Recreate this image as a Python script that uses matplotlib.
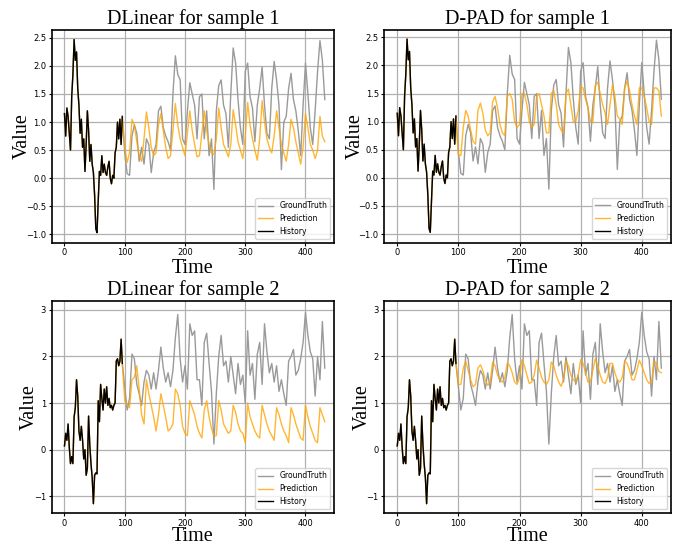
import numpy as np
import matplotlib
matplotlib.use('Agg')
import matplotlib.pyplot as plt

# history window, t = 0..96 step 2
hist1 = [1.15, 0.75, 1.25, 1.1, 0.8, 0.5, 1.45, 1.85, 2.47, 2.1,
         2.25, 1.6, 1.3, 0.8, 1.05, 0.55, 0.7, 0.12, 0.6, 1.2,
         0.85, 0.3, 0.6, 0.25, 0.1, -0.3, -0.9, -0.97, -0.4, 0.12,
         0.05, 0.4, 0.1, 0.25, 0.1, 0.05, 0.2, 0.3, 0.0, -0.1,
         0.05, 0.0, 0.45, 0.55, 1.0, 0.7, 1.05, 0.6, 1.1]
hist2 = [0.08, 0.35, 0.2, 0.55, 0.05, -0.3, -0.15, -0.3, 0.7, 0.9,
         1.5, 1.15, 0.4, 0.2, 0.5, 0.2, -0.2, 0.0, -0.55, -0.4,
         0.72, 0.1, -0.3, -0.6, -1.16, -0.55, -0.5, -0.52, 1.05, 0.6,
         1.4, 1.1, 0.85, 1.3, 1.0, 1.35, 0.95, 1.1, 0.9, 0.95,
         0.85, 0.95, 1.0, 1.9, 1.95, 1.8, 1.9, 2.37, 1.85]

# forecast window, t = 100..432 step 4
gt1 = [0.45, 0.08, 0.05, 0.75, 0.95, 0.8, 0.3, 0.55, 0.25, 0.7, 0.6, 0.1,
       0.45, 0.6, 1.2, 1.28, 0.9, 0.75, 0.65, 0.5, 1.5, 2.18, 1.85, 1.75,
       0.7, 0.6, 1.2, 1.7, 1.5, 1.3, 0.7, 1.45, 1.5, 0.7, 1.2, 0.4,
       0.7, -0.2, 1.2, 1.65, 1.75, 1.3, 1.15, 0.55, 1.5, 2.32, 2.05, 1.4,
       0.9, 0.6, 1.9, 2.05, 1.45, 1.25, 0.65, 1.3, 1.6, 1.98, 1.3, 0.8,
       0.7, 1.6, 2.08, 1.75, 1.3, 0.15, 1.0, 1.1, 1.6, 1.87, 1.4, 1.2,
       0.85, 0.4, 1.3, 2.05, 1.5, 0.9, 0.6, 1.2, 1.9, 2.45, 2.1, 1.4]
dlinear1 = [0.55, 0.28, 0.45, 1.05, 0.95, 0.65, 0.4, 0.3, 0.7, 1.18, 0.9, 0.55,
            0.4, 0.45, 0.95, 1.15, 0.85, 0.55, 0.35, 0.4, 0.85, 1.33, 0.95, 0.7,
            0.55, 0.4, 0.8, 1.2, 0.85, 0.6, 0.38, 0.4, 0.8, 1.2, 0.85, 0.6,
            0.45, 0.42, 0.7, 1.25, 0.9, 0.6, 0.5, 0.38, 0.6, 1.22, 0.95, 0.65,
            0.5, 0.35, 0.75, 1.35, 0.95, 0.7, 0.5, 0.32, 0.7, 1.38, 1.0, 0.7,
            0.55, 0.45, 0.75, 1.2, 0.9, 0.6, 0.45, 0.3, 0.6, 1.05, 0.9, 0.65,
            0.45, 0.25, 0.55, 1.15, 0.9, 0.6, 0.5, 0.35, 0.5, 1.1, 0.75, 0.65]
dpad1 = [0.4, 0.4, 0.9, 1.2, 1.1, 0.85, 0.65, 0.6, 1.2, 1.33, 1.15, 0.85,
         0.75, 0.8, 1.35, 1.45, 1.25, 0.95, 0.8, 0.75, 1.45, 1.5, 1.4, 1.0,
         0.9, 0.95, 1.5, 1.5, 1.3, 1.0, 0.9, 0.95, 1.45, 1.5, 1.3, 1.1,
         0.8, 0.8, 1.5, 1.56, 1.3, 0.95, 0.85, 0.8, 1.5, 1.58, 1.3, 1.0,
         1.0, 1.2, 1.62, 1.6, 1.4, 1.25, 1.0, 0.98, 1.65, 1.7, 1.5, 1.3,
         1.15, 0.95, 1.3, 1.65, 1.45, 1.1, 1.05, 0.95, 1.6, 1.72, 1.55, 1.3,
         1.1, 0.95, 1.6, 1.6, 1.45, 1.25, 1.0, 0.95, 1.6, 1.6, 1.55, 1.1]
gt2 = [1.35, 0.85, 1.1, 2.05, 1.95, 1.4, 1.2, 0.95, 1.45, 1.7, 1.6, 1.3,
       1.65, 1.3, 1.7, 2.2, 1.75, 1.45, 1.65, 1.35, 1.7, 2.4, 2.9, 1.95,
       1.45, 1.8, 1.3, 2.7, 2.45, 2.55, 1.5, 1.5, 0.95, 2.3, 2.5, 1.85,
       1.25, 0.12, 1.2, 2.0, 2.45, 1.8, 1.9, 1.45, 2.0, 1.6, 1.2, 1.85,
       1.4, 1.6, 1.0, 2.55, 1.6, 1.85, 1.08, 2.05, 2.3, 1.4, 2.7, 2.1,
       1.65, 1.85, 1.45, 1.8, 1.25, 1.5, 1.2, 0.95, 1.9, 2.0, 2.15, 1.6,
       1.7, 1.95, 2.3, 2.95, 2.45, 2.1, 1.95, 1.15, 2.0, 1.5, 2.75, 1.75]
dlinear2 = [1.05, 0.95, 0.9, 1.5, 1.55, 1.8, 1.3, 0.75, 0.55, 1.5, 1.2, 0.95,
            0.7, 0.4, 0.75, 1.2, 0.95, 0.7, 0.4, 0.45, 0.55, 1.3, 1.2, 0.95,
            0.5, 0.35, 0.3, 1.05, 0.9, 0.75, 0.5, 0.35, 0.25, 0.85, 1.05, 0.7,
            0.45, 0.3, 0.3, 1.05, 0.85, 0.55, 0.45, 0.35, 0.4, 0.95, 0.8, 0.55,
            0.4, 0.35, 0.15, 1.0, 0.7, 0.55, 0.4, 0.3, 0.25, 0.95, 0.75, 0.55,
            0.4, 0.3, 0.2, 0.9, 0.75, 0.55, 0.4, 0.3, 0.15, 0.9, 0.75, 0.55,
            0.4, 0.25, 0.2, 0.95, 0.7, 0.5, 0.35, 0.2, 0.15, 0.9, 0.75, 0.6]
dpad2 = [1.4, 1.4, 1.75, 1.9, 1.7, 1.5, 1.35, 1.4, 1.75, 1.82, 1.7, 1.5,
         1.38, 1.45, 1.88, 1.8, 1.6, 1.5, 1.45, 1.55, 1.86, 1.8, 1.65, 1.45,
         1.4, 1.55, 1.93, 1.8, 1.6, 1.42, 1.45, 1.6, 1.92, 1.75, 1.55, 1.45,
         1.4, 1.5, 1.88, 1.8, 1.6, 1.45, 1.36, 1.5, 1.9, 1.8, 1.6, 1.5,
         1.45, 1.6, 1.93, 1.85, 1.65, 1.45, 1.45, 1.7, 1.95, 1.8, 1.6, 1.45,
         1.42, 1.55, 1.85, 1.85, 1.65, 1.5, 1.45, 1.55, 1.9, 1.85, 1.7, 1.5,
         1.5, 1.7, 1.92, 1.8, 1.65, 1.5, 1.42, 1.45, 1.9, 1.85, 1.68, 1.65]

titles = ['DLinear for sample 1', 'D-PAD for sample 1',
          'DLinear for sample 2', 'D-PAD for sample 2']

serif = 'Liberation Serif'


def draw(ax, title, hist, gt, pred, ylim, yticks, ylab_x, xlab_y):
    ht = np.arange(0, 2 * len(hist), 2)
    ft = np.arange(100, 100 + 4 * len(gt), 4)
    t = np.concatenate([ht, ft])
    ax.plot(t, np.concatenate([hist, gt]), color='#9a9a9a', lw=1.0, label='GroundTruth')
    ax.plot(t, np.concatenate([hist, pred]), color='orange', alpha=0.8, lw=1.0, label='Prediction')
    ax.plot(ht, hist, color='black', lw=1.0, label='History')
    ax.set_title(title, fontsize=14.5, family=serif, pad=4)
    ax.set_xlabel('Time', fontsize=14.5, family=serif)
    ax.set_ylabel('Value', fontsize=14.5, family=serif)
    ax.xaxis.set_label_coords(0.5, xlab_y)
    ax.yaxis.set_label_coords(ylab_x, 0.5)
    ax.set_xlim(-21.2, 447.8)
    ax.set_ylim(*ylim)
    ax.set_yticks(yticks)
    ax.set_xticks([0, 100, 200, 300, 400])
    ax.tick_params(labelsize=6, length=2.5, width=0.8, pad=1.5)
    ax.grid(True, color='#b0b0b0', lw=0.9)
    for s in ax.spines.values():
        s.set_linewidth(1.2)
    ax.legend(loc='lower right', fontsize=5.5)


fig = plt.figure(figsize=(6.78, 5.46), dpi=100)
W, H = 678.0, 546.0
boxes = [(51.7, 30, 334.3, 242.7), (384.3, 29.5, 671, 242.5),
         (51.7, 301, 334.3, 513), (384.3, 301, 671, 513)]
axs = [fig.add_axes([l / W, 1 - b / H, (r - l) / W, (b - t) / H]) for l, t, r, b in boxes]

yl1, yt1 = (-1.15, 2.64), [-1.0, -0.5, 0.0, 0.5, 1.0, 1.5, 2.0, 2.5]
yl2, yt2 = (-1.36, 3.19), [-1, 0, 1, 2, 3]
draw(axs[0], titles[0], hist1, gt1, dlinear1, yl1, yt1, -0.07, -0.078)
draw(axs[1], titles[1], hist1, gt1, dpad1, yl1, yt1, -0.069, -0.078)
draw(axs[2], titles[2], hist2, gt2, dlinear2, yl2, yt2, -0.046, -0.064)
draw(axs[3], titles[3], hist2, gt2, dpad2, yl2, yt2, -0.045, -0.064)

fig.savefig('out.png', dpi=100)
